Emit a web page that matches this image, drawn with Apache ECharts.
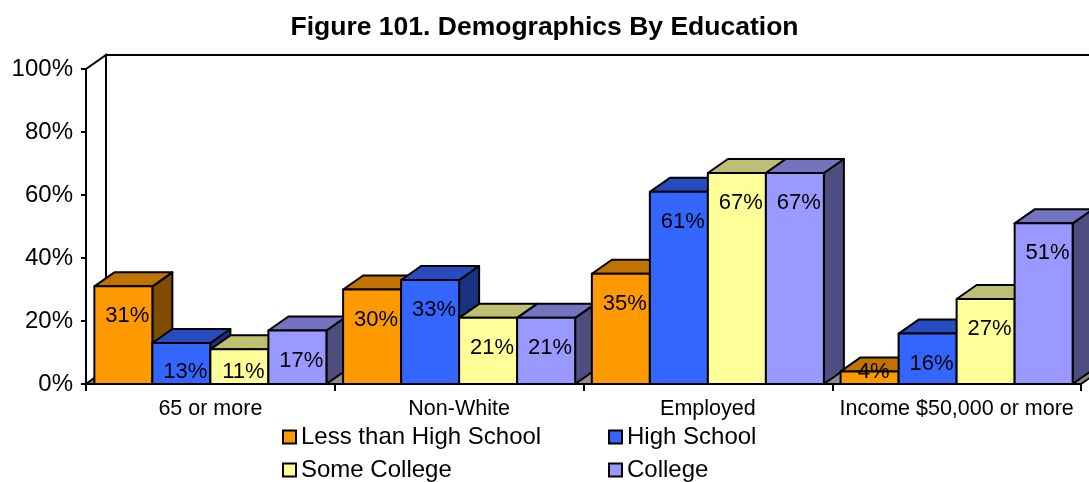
<!DOCTYPE html>
<html>
<head>
<meta charset="utf-8">
<script src="https://cdn.jsdelivr.net/npm/echarts@6/dist/echarts.min.js"></script>
<style>
  html, body { margin: 0; padding: 0; background: #fff; }
  #chart { width: 1089px; height: 482px; }
</style>
</head>
<body>
<div id="chart"></div>
<script>
// data
const categories = ["65 or more", "Non-White", "Employed", "Income $50,000 or more"];
const seriesNames = ["Less than High School", "High School", "Some College", "College"];
const lessThanHighSchool = [31, 30, 35, 4];
const highSchool = [13, 33, 61, 16];
const someCollege = [11, 21, 67, 27];
const college = [17, 21, 67, 51];

// front / top / side shades
const faces = [
  { front: "#FF9900", top: "#C07300", side: "#7F4C00" },
  { front: "#3366FF", top: "#264CBF", side: "#1A3380" },
  { front: "#FFFF99", top: "#BFBF73", side: "#80804D" },
  { front: "#9999FF", top: "#7373BF", side: "#4D4D80" },
];

const DX = 20, DY = -14;      // depth offset of the 3D box
const BAR_FRAC = 0.2332;      // bar width as share of a category band
const LW = 2;
const FONT = "Liberation Sans, Arial, sans-serif";

const chart = echarts.init(document.getElementById("chart"));

function barRenderer(si) {
  return function (params, api) {
    const ci = api.value(0);
    const v = api.value(1);
    const band = api.size([1, 0])[0];
    const base = api.coord([ci, 0]);
    const topPt = api.coord([ci, v]);
    const bw = band * BAR_FRAC;
    const x0 = base[0] - 2 * bw + si * bw;
    const x1 = x0 + bw;
    const yb = base[1];
    const yt = topPt[1];
    const f = faces[si];
    const z = ci * 10 + si;
    const stroke = { stroke: "#000", lineWidth: LW, lineJoin: "round" };
    return {
      type: "group",
      children: [
        {
          type: "polygon", z2: z,
          shape: { points: [[x1, yb], [x1 + DX, yb + DY], [x1 + DX, yt + DY], [x1, yt]] },
          style: Object.assign({ fill: f.side }, stroke),
        },
        {
          type: "polygon", z2: z,
          shape: { points: [[x0, yt], [x1, yt], [x1 + DX, yt + DY], [x0 + DX, yt + DY]] },
          style: Object.assign({ fill: f.top }, stroke),
        },
        {
          type: "rect", z2: z,
          shape: { x: x0, y: yt, width: bw, height: yb - yt },
          style: Object.assign({ fill: f.front }, stroke),
        },
        {
          type: "text", z2: 1000,
          x: (x0 + x1) / 2 + 4,
          y: Math.min(yt + 30, yb - 12),
          style: {
            text: v + "%", fill: "#000", fontSize: 22, fontFamily: FONT,
            align: "center", verticalAlign: "middle",
          },
        },
      ],
    };
  };
}

function wallRenderer(params, api) {
  const cs = params.coordSys;
  const x = cs.x, y = cs.y, w = cs.width, h = cs.height;
  const stroke = { stroke: "#000", lineWidth: LW };
  return {
    type: "group",
    children: [
      {
        type: "rect",
        shape: { x: x + DX, y: y + DY, width: w, height: h },
        style: Object.assign({ fill: "#fff" }, stroke),
      },
      {
        type: "polygon",
        shape: { points: [[x, y], [x + DX, y + DY], [x + DX, y + h + DY], [x, y + h]] },
        style: Object.assign({ fill: "#fff" }, stroke),
      },
      {
        type: "polygon",
        shape: { points: [[x, y + h], [x + w, y + h], [x + w + DX, y + h + DY], [x + DX, y + h + DY]] },
        style: Object.assign({ fill: "#8C8C8C" }, stroke),
      },
    ],
  };
}

const values = [lessThanHighSchool, highSchool, someCollege, college];

const barSeries = values.map((vals, si) => ({
  name: seriesNames[si],
  type: "custom",
  z: 3,
  renderItem: barRenderer(si),
  itemStyle: { color: faces[si].front },
  encode: { x: 0, y: 1 },
  data: vals.map((v, i) => [i, v]),
}));

const legendBase = {
  orient: "vertical",
  icon: "rect",
  itemWidth: 13,
  itemHeight: 13,
  itemGap: 7,
  top: 419,
  height: 120,
  itemStyle: { borderColor: "#000", borderWidth: LW },
  textStyle: { fontSize: 24, fontFamily: FONT, color: "#000", lineHeight: 26 },
};

chart.setOption({
  animation: false,
  title: {
    text: "Figure 101. Demographics By Education",
    left: "center",
    top: 9,
    textStyle: { fontSize: 26.5, fontWeight: "bold", fontFamily: FONT, color: "#000" },
  },
  legend: [
    Object.assign({ left: 277, data: [seriesNames[0], seriesNames[2]] }, legendBase),
    Object.assign({ left: 603, data: [seriesNames[1], seriesNames[3]] }, legendBase),
  ],
  grid: { left: 86, right: 8, top: 69, bottom: 98 },
  xAxis: {
    type: "category",
    data: categories,
    axisLine: { show: true, lineStyle: { color: "#000", width: LW } },
    axisTick: { show: true, interval: 0, length: 7, lineStyle: { color: "#000", width: LW } },
    axisLabel: { interval: 0, fontSize: 21.5, fontFamily: FONT, color: "#000", margin: 14 },
  },
  yAxis: {
    type: "value",
    min: 0,
    max: 100,
    interval: 20,
    axisLine: { show: true, lineStyle: { color: "#000", width: LW } },
    axisTick: { show: true, length: 5, lineStyle: { color: "#000", width: LW } },
    splitLine: { show: false },
    axisLabel: { formatter: "{value}%", fontSize: 24, fontFamily: FONT, color: "#000", margin: 13 },
  },
  series: [
    {
      name: "walls",
      type: "custom",
      z: 1,
      silent: true,
      renderItem: wallRenderer,
      data: [[0, 0]],
    },
  ].concat(barSeries),
});
</script>
</body>
</html>
